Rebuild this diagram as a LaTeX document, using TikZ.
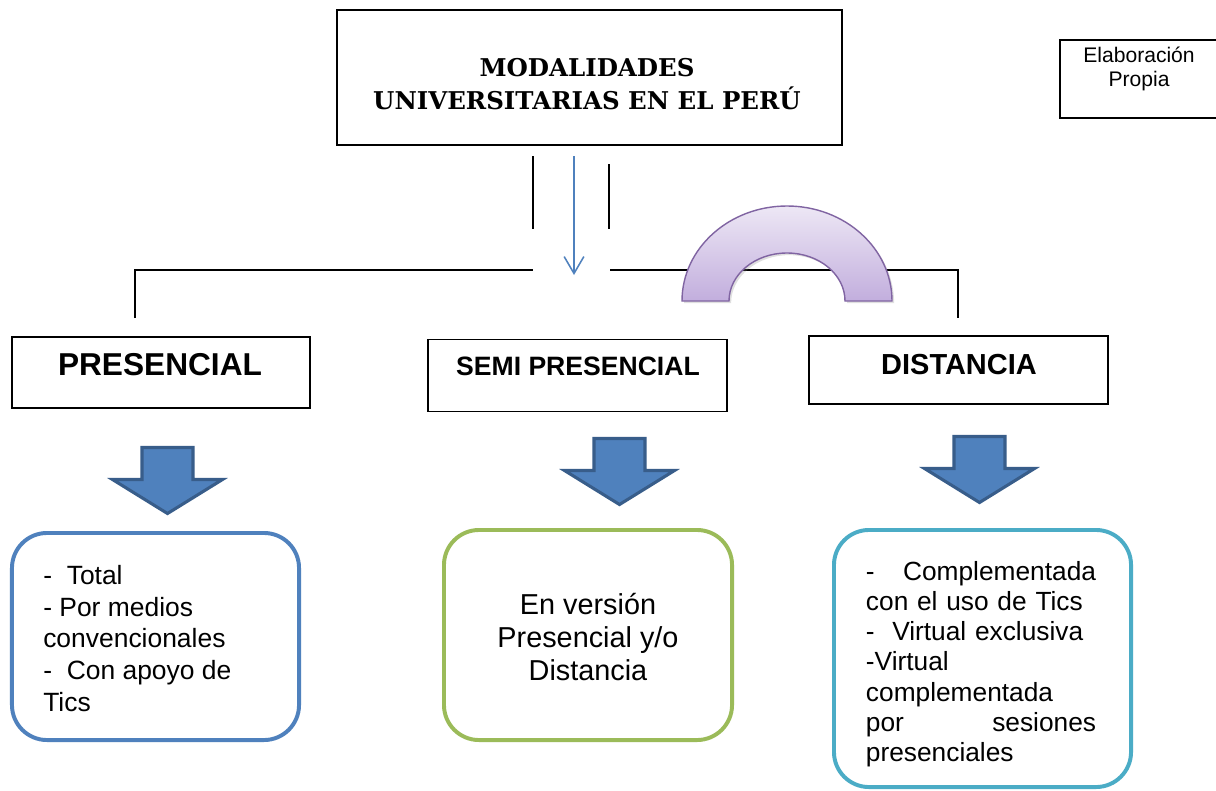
\documentclass[tikz,border=0pt]{standalone}
\usepackage{fontspec}
\setmainfont{Liberation Sans}
\newfontfamily\romana{DejaVu Serif}
\usetikzlibrary{arrows.meta,shadows}
\definecolor{azulflecha}{HTML}{4F81BD}
\definecolor{azulborde}{HTML}{385D8A}
\definecolor{verdecaja}{HTML}{9BBB59}
\definecolor{celestecaja}{HTML}{4BACC6}
\definecolor{moradoborde}{HTML}{8064A2}
\definecolor{lilaclaro}{HTML}{EDE7F5}
\definecolor{lilaoscuro}{HTML}{C2AEDD}
\newcommand{\flechabloque}[2]{
	\draw [bloqueflecha] (#1-25.5,#2) -- (#1+25.5,#2) -- (#1+25.5,#2+32) -- (#1+55,#2+32) -- (#1,#2+66) -- (#1-55,#2+32) -- (#1-25.5,#2+32) -- cycle;
}
\begin{document}
\begin{tikzpicture}[x=0.025cm, y=-0.025cm,
	caja/.style={draw, line width=1pt, inner sep=0pt},
	cajaredonda/.style={draw=#1, line width=2.8pt, rounded corners=0.875cm, inner sep=0pt},
	bloqueflecha/.style={fill=azulflecha, draw=azulborde, line width=2.2pt, line join=miter},
	linea/.style={line width=1.1pt}]
	\useasboundingbox (0,0) rectangle (1216,790);
	\fill [white] (0,0) rectangle (1216,790);
% CAJA PRINCIPAL
	\node [caja, minimum width=12.63cm, minimum height=3.38cm] (modalidades) at (589.5,77.5) {};
	\node [font=\romana\bfseries\fontsize{17.4}{23.5}\selectfont, align=center] (titulo) at (587,84.5) {MODALIDADES\\UNIVERSITARIAS EN EL PERÚ};
	\node [caja, minimum width=3.95cm, minimum height=1.95cm] (fuente) at (1139,79) {};
	\node [font=\fontsize{15}{17}\selectfont, align=center] (elaboracion) at (1139,69) {Elaboración\\Propia};
% RAMAS
	\coordinate (bajada) at (574,156);
	\coordinate (cruce) at (574,275);
	\coordinate (guiaIzqA) at (533,156);
	\coordinate (guiaIzqB) at (533,229);
	\coordinate (guiaDerA) at (609,164);
	\coordinate (guiaDerB) at (609,229);
	\coordinate (ramaIzq) at (135,318);
	\coordinate (cortaIzq) at (533,270);
	\coordinate (cortaDer) at (610,270);
	\coordinate (ramaDer) at (958,318);
	\draw [linea] (guiaIzqA) -- (guiaIzqB);
	\draw [linea] (guiaDerA) -- (guiaDerB);
	\draw [line width=1.1pt, azulflecha, -{Straight Barb[length=12pt,width=14pt]}] (bajada) -- (cruce);
	\draw [linea] (ramaIzq) |- (cortaIzq);
	\draw [linea] (cortaDer) -| (ramaDer);
	\draw [draw=moradoborde, line width=1pt, top color=lilaclaro, bottom color=lilaoscuro,
		drop shadow={opacity=0.25, shadow xshift=1.5pt, shadow yshift=-1.5pt}]
		(682,301) arc [start angle=180, end angle=360, x radius=105, y radius=95]
		-- (845,301) arc [start angle=0, end angle=-180, x radius=58, y radius=48] -- cycle;
% MODALIDADES
	\node [caja, minimum width=7.45cm, minimum height=1.775cm] (presencial) at (161,372.5) {};
	\node [font=\bfseries\fontsize{22.5}{26}\selectfont] (txtPresencial) at (160,365) {PRESENCIAL};
	\node [caja, minimum width=7.475cm, minimum height=1.8cm] (semi) at (577.5,375.5) {};
	\node [font=\bfseries\fontsize{18.9}{22}\selectfont] (txtSemi) at (578,366) {SEMI PRESENCIAL};
	\node [caja, minimum width=7.475cm, minimum height=1.7cm] (distancia) at (958.5,370) {};
	\node [font=\bfseries\fontsize{20.6}{24}\selectfont] (txtDistancia) at (959,365) {DISTANCIA};
% FLECHAS
	\flechabloque{167.5}{447.5}
	\flechabloque{619.5}{438.5}
	\flechabloque{979.5}{436.5}
% DETALLE
	\node [cajaredonda=azulflecha, minimum width=7.175cm, minimum height=5.175cm] (detPresencial) at (155.5,636.5) {};
	\node [font=\fontsize{18.8}{22.5}\selectfont, align=left, anchor=west, inner sep=0pt] (txtDetPresencial) at (43,638.5)
		{-\ \ Total\\- Por medios\\convencionales\\-\ \ Con apoyo de\\Tics};
	\node [cajaredonda=verdecaja, minimum width=7.2cm, minimum height=5.25cm] (detSemi) at (588,635) {};
	\node [font=\fontsize{20.5}{23.5}\selectfont, align=center] (txtDetSemi) at (588,637)
		{En versión\\Presencial y/o\\Distancia};
	\node [cajaredonda=celestecaja, minimum width=7.425cm, minimum height=6.425cm] (detDistancia) at (982.5,658.5) {};
	\node [font=\fontsize{18.7}{21.5}\selectfont, align=left, text width=5.75cm, inner sep=0pt] (txtDetDistancia) at (981,664)
		{-\hfill Complementada\\con el uso de Tics\\-\ \ Virtual exclusiva\\-Virtual\\complementada\\por\hfill sesiones\\presenciales};
\end{tikzpicture}
\end{document}
